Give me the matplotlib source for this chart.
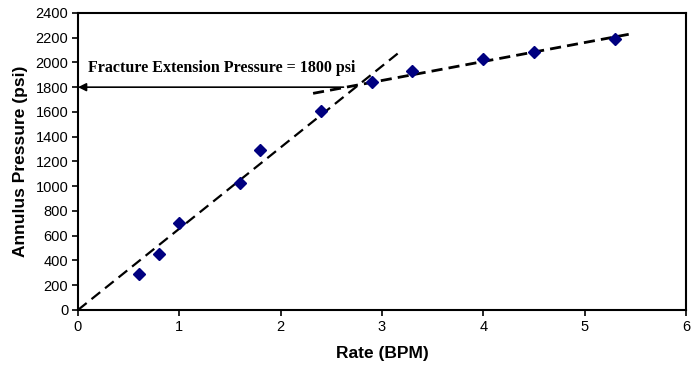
import matplotlib.pyplot as plt

# measured points
rate = [0.6, 0.8, 1.0, 1.6, 1.8, 2.4, 2.9, 3.3, 4.0, 4.5, 5.3]
pressure = [288, 455, 700, 1028, 1292, 1607, 1840, 1933, 2025, 2085, 2186]

# trend lines (matrix flow / fracture extension)
fit1_x = [0.0, 3.16]
fit1_y = [0, 2075]
fit2_x = [2.32, 5.44]
fit2_y = [1750, 2228]

fep = 1800
arrow_x = 2.62

fig = plt.figure(figsize=(7.0, 3.69), dpi=100)
ax = fig.add_axes([0.1114, 0.16, 0.8686, 0.805])

l1, = ax.plot(fit1_x, fit1_y, color='black', lw=1.6)
l1.set_dashes((5, 2.8))
l2, = ax.plot(fit2_x, fit2_y, color='black', lw=2.0)
l2.set_dashes((4, 2.2))
ax.plot(rate, pressure, ls='none', marker='D', ms=6.5, color='#000080', zorder=3)

ax.annotate('', xy=(0, fep), xytext=(arrow_x, fep),
            arrowprops=dict(arrowstyle='-|>', color='black', lw=1.2,
                            mutation_scale=12, shrinkA=0, shrinkB=0))
ax.text(0.1, 1955, 'Fracture Extension Pressure = 1800 psi', fontsize=11.5,
        fontweight='bold', family='Liberation Serif', va='center', ha='left')

ax.set_xlim(0, 6)
ax.set_ylim(0, 2400)
ax.set_xticks(range(0, 7))
ax.set_yticks(range(0, 2401, 200))
ax.tick_params(direction='out', length=4, width=1.2, labelsize=10.5, pad=3)
for lab in ax.get_xticklabels() + ax.get_yticklabels():
    lab.set_family('Liberation Sans')
for s in ax.spines.values():
    s.set_linewidth(1.5)

ax.set_xlabel('Rate (BPM)', fontsize=12.5, fontweight='bold', family='Liberation Sans', labelpad=9)
ax.set_ylabel('Annulus Pressure (psi)', fontsize=12.5, fontweight='bold', family='Liberation Sans', labelpad=5)

fig.savefig('out.png', dpi=100)
